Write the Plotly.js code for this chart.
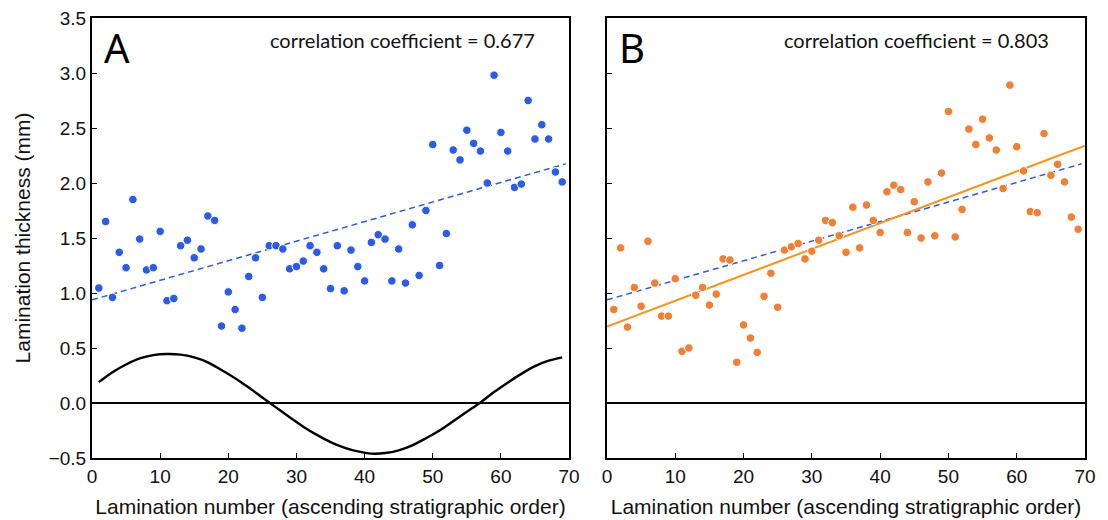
<!DOCTYPE html>
<html>
<head>
<meta charset="utf-8">
<script src="https://cdn.plot.ly/plotly-3.0.1.min.js"></script>
<style>html,body{margin:0;padding:0;background:#fff;}#chart{width:1108px;height:520px;}</style>
</head>
<body>
<div id="chart"></div>
<script>
// Lamination numbers (1..69)
const laminationNumber = [1,2,3,4,5,6,7,8,9,10,11,12,13,14,15,16,17,18,19,20,21,22,23,24,25,26,27,28,29,30,31,32,33,34,35,36,37,38,39,40,41,42,43,44,45,46,47,48,49,50,51,52,53,54,55,56,57,58,59,60,61,62,63,64,65,66,67,68,69];

// Panel A: measured lamination thickness (mm)
const thicknessA = [1.045,1.65,0.96,1.37,1.23,1.85,1.49,1.21,1.23,1.56,
  0.93,0.95,1.43,1.48,1.32,1.40,1.70,1.66,0.70,1.01,
  0.85,0.68,1.15,1.32,0.96,1.43,1.43,1.40,1.22,1.24,
  1.29,1.43,1.37,1.22,1.04,1.43,1.02,1.39,1.24,1.11,
  1.46,1.53,1.49,1.11,1.40,1.09,1.62,1.16,1.75,2.35,
  1.25,1.54,2.30,2.21,2.48,2.36,2.29,2.00,2.98,2.46,
  2.29,1.96,1.99,2.75,2.40,2.53,2.40,2.10,2.01];

// Panel B: thickness (mm)
const thicknessB = [0.85,1.41,0.69,1.05,0.88,1.47,1.09,0.79,0.79,1.13,
  0.47,0.50,0.98,1.05,0.89,0.99,1.31,1.30,0.37,0.71,
  0.59,0.46,0.97,1.18,0.87,1.39,1.42,1.45,1.31,1.38,
  1.48,1.66,1.64,1.52,1.37,1.78,1.41,1.80,1.66,1.55,
  1.92,1.98,1.94,1.55,1.83,1.50,2.01,1.52,2.09,2.65,
  1.51,1.76,2.49,2.35,2.58,2.41,2.30,1.95,2.89,2.33,
  2.11,1.74,1.73,2.45,2.07,2.17,2.01,1.69,1.58];

// Sinusoidal curve in panel A
const sineX = [1,3,5,7,9,11,13,15,17,19,21,23,25,27,29,31,33,35,37,39,41,43,45,47,49,51,53,55,57,59,61,63,65,67,69];
const sineY = [0.19,0.28,0.35,0.405,0.435,0.445,0.44,0.415,0.37,0.30,0.225,0.14,0.05,-0.04,-0.13,-0.215,-0.29,-0.355,-0.405,-0.44,-0.46,-0.455,-0.43,-0.385,-0.32,-0.25,-0.165,-0.08,0.005,0.10,0.185,0.265,0.335,0.385,0.415];

const fitRangeA = [0, 69.5];
const fitRangeB = [0, 70];

const xTickVals = [0,10,20,30,40,50,60,70];
const yTickVals = [-0.5,0,0.5,1,1.5,2,2.5,3,3.5];

const labelA = "A", labelB = "B";
const corrTextA = "correlation coefficient = 0.677";
const corrTextB = "correlation coefficient = 0.803";
const xTitle = "Lamination number (ascending stratigraphic order)";
const yTitle = "Lamination thickness (mm)";

function linfit(x, y) {
  const n = x.length;
  let sx=0, sy=0, sxx=0, sxy=0;
  for (let i=0;i<n;i++){ sx+=x[i]; sy+=y[i]; sxx+=x[i]*x[i]; sxy+=x[i]*y[i]; }
  const b = (n*sxy - sx*sy)/(n*sxx - sx*sx);
  const a = (sy - b*sx)/n;
  return {a, b};
}
const fA = linfit(laminationNumber, thicknessA);
const fB = linfit(laminationNumber, thicknessB);

const BLUE = "#2b5ce3";
const ORANGE_PT = "#ee8135";
const ORANGE_LN = "#f7941d";

const traces = [
  // Panel A
  {x: sineX, y: sineY, xaxis:'x', yaxis:'y', mode:'lines', line:{color:'#000', width:2.4, shape:'spline', smoothing:0.8}, hoverinfo:'skip'},
  {x: fitRangeA, y: fitRangeA.map(v=>fA.a+fA.b*v), xaxis:'x', yaxis:'y', mode:'lines', line:{color:BLUE, width:1.5, dash:'6px,4px'}},
  {x: laminationNumber, y: thicknessA, xaxis:'x', yaxis:'y', mode:'markers', marker:{color:BLUE, size:8.5, line:{color:'#fff', width:1}}},
  // Panel B
  {x: fitRangeA, y: fitRangeA.map(v=>fA.a+fA.b*v), xaxis:'x2', yaxis:'y2', mode:'lines', line:{color:BLUE, width:1.5, dash:'6px,4px'}},
  {x: fitRangeB, y: fitRangeB.map(v=>fB.a+fB.b*v), xaxis:'x2', yaxis:'y2', mode:'lines', line:{color:ORANGE_LN, width:2}},
  {x: laminationNumber, y: thicknessB, xaxis:'x2', yaxis:'y2', mode:'markers', marker:{color:ORANGE_PT, size:8.5, line:{color:'#fff', width:1}}}
];

const axisFont = {family:'"Liberation Sans", Arial, sans-serif', size:19, color:'#111'};
const titleFont = {family:'"Liberation Sans", Arial, sans-serif', size:21, color:'#111'};

function xAxis(domain, anchor) {
  return {domain, anchor, range:[0,70], tickvals:xTickVals, ticks:'inside', ticklen:5, tickwidth:1, tickcolor:'#000',
    showline:true, linecolor:'#000', linewidth:2, mirror:true, showgrid:false, zeroline:false,
    tickfont:axisFont, title:{text:xTitle, font:titleFont, standoff:14}};
}
function yAxis(anchor, labels) {
  return {anchor, range:[-0.5,3.5], tickvals:yTickVals, tickformat:'.1f', ticks:'inside', ticklen:5, tickwidth:1, tickcolor:'#000',
    showline:true, linecolor:'#000', linewidth:2, mirror:true, showgrid:false,
    zeroline:true, zerolinecolor:'#000', zerolinewidth:1.3,
    showticklabels:labels, tickfont:axisFont,
    title: labels ? {text:yTitle, font:titleFont, standoff:12} : {text:''}};
}

const annFont = {family:'Lato, "Noto Sans", sans-serif', size:20, color:'#111'};
const bigFont = {family:'"Noto Sans", Lato, sans-serif', size:40, color:'#000'};

const layout = {
  width:1108, height:520,
  margin:{l:92, r:23, t:18, b:62},
  paper_bgcolor:'#fff', plot_bgcolor:'#fff',
  showlegend:false,
  xaxis: xAxis([0,0.4804],'y'),
  yaxis: yAxis('x', true),
  xaxis2: xAxis([0.5186,1],'y2'),
  yaxis2: yAxis('x2', false),
  annotations:[
    {text:labelA, xref:'x domain', yref:'y domain', x:0.02, y:1.0, xanchor:'left', yanchor:'top', showarrow:false, font:bigFont},
    {text:labelB, xref:'x2 domain', yref:'y2 domain', x:0.02, y:1.0, xanchor:'left', yanchor:'top', showarrow:false, font:bigFont},
    {text:corrTextA, xref:'x domain', yref:'y domain', x:0.933, y:0.982, xanchor:'right', yanchor:'top', showarrow:false, font:annFont},
    {text:corrTextB, xref:'x2 domain', yref:'y2 domain', x:0.929, y:0.982, xanchor:'right', yanchor:'top', showarrow:false, font:annFont}
  ]
};

Plotly.newPlot('chart', traces, layout, {staticPlot:true, displayModeBar:false});
</script>
</body>
</html>
